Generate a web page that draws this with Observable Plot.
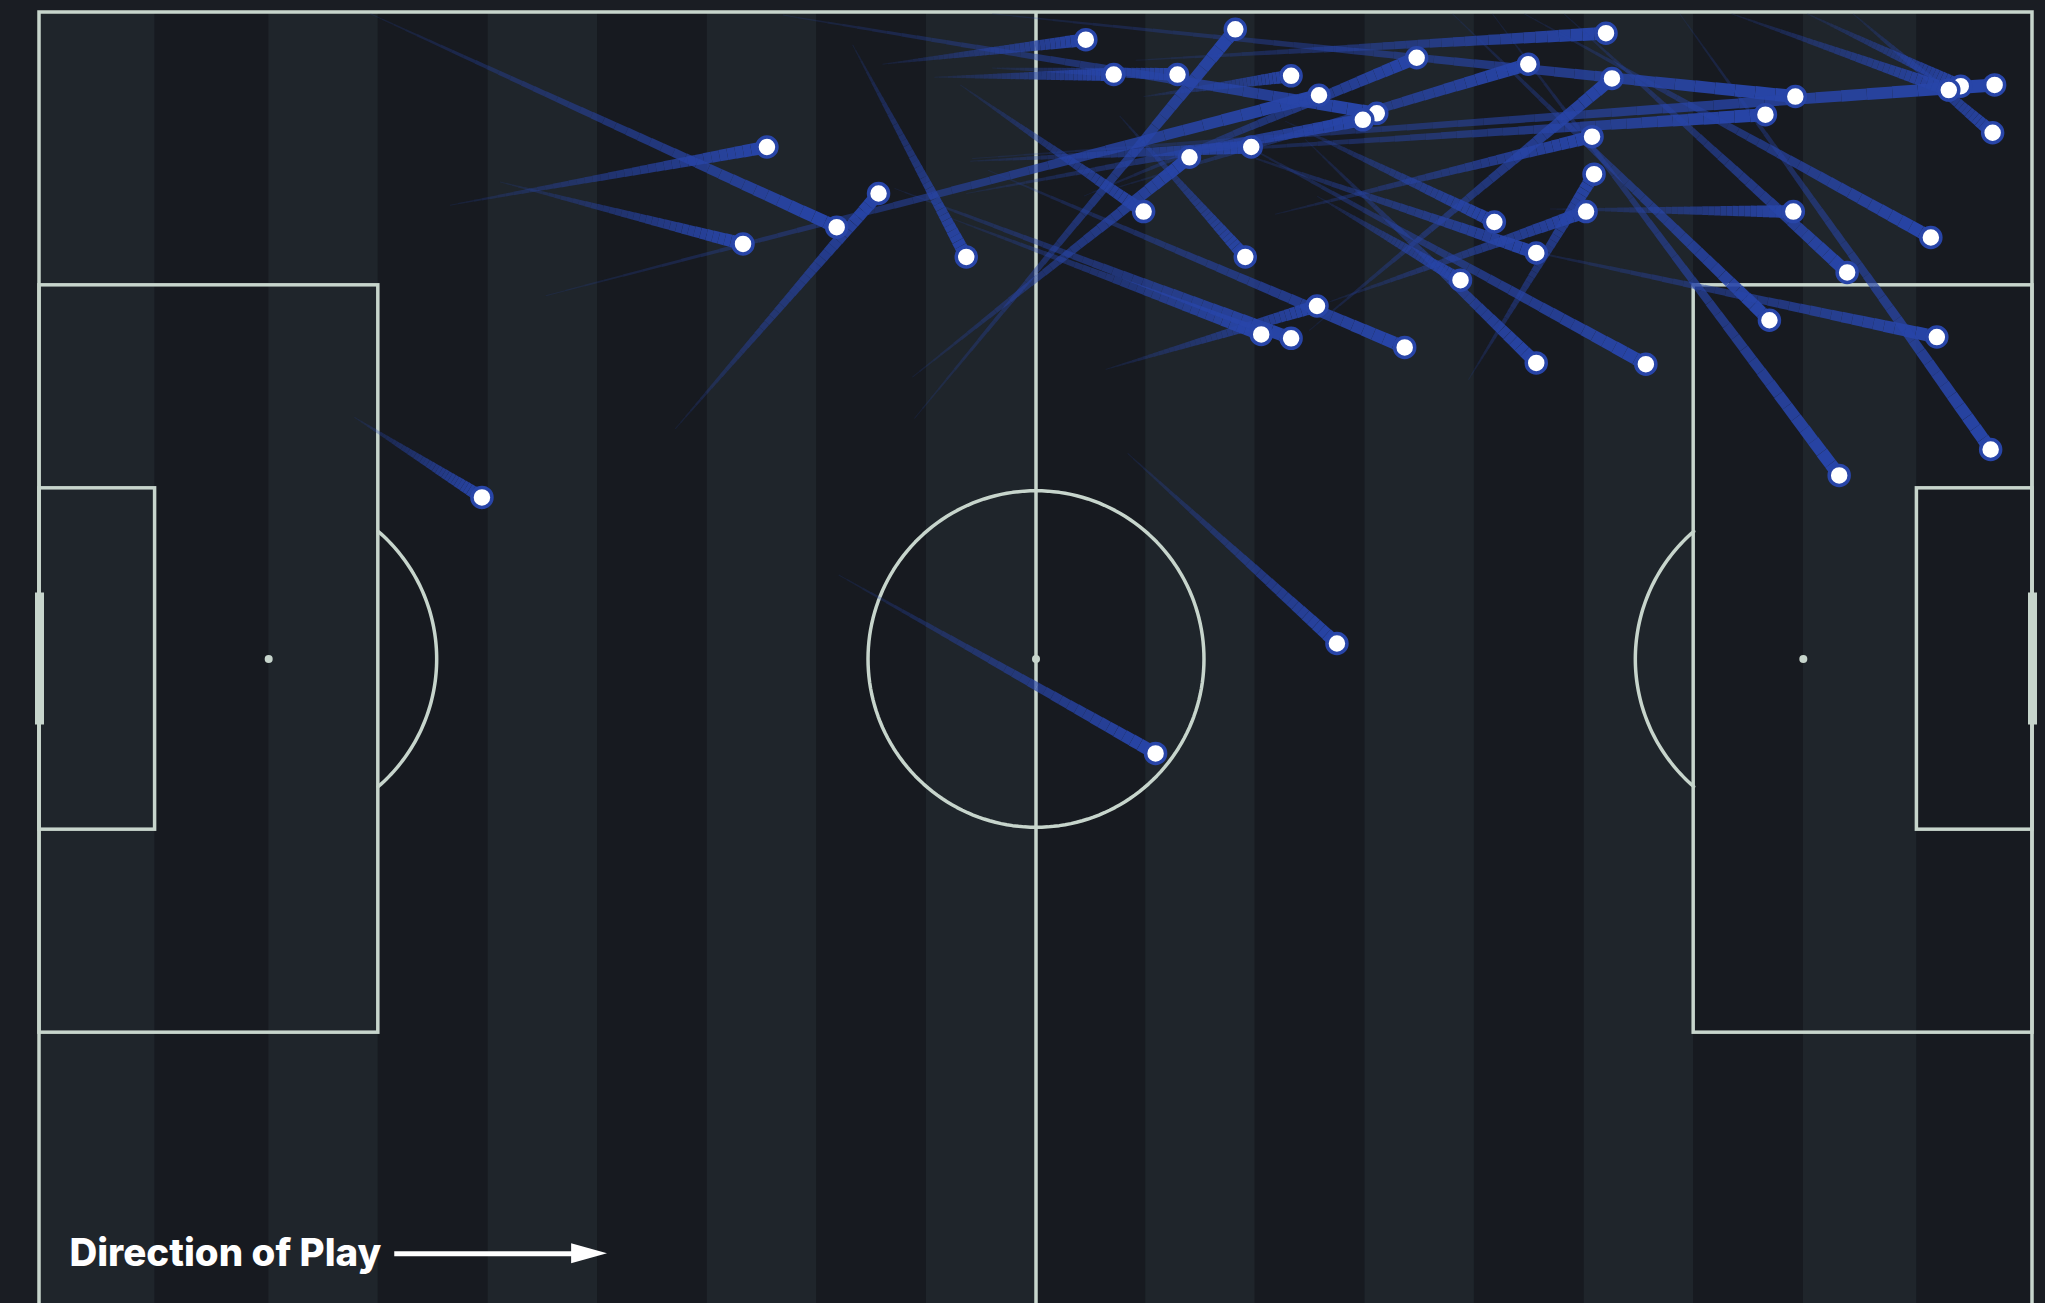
<!DOCTYPE html>
<html><head><meta charset="utf-8">
<script src="https://cdn.jsdelivr.net/npm/d3@7"></script>
<script src="https://cdn.jsdelivr.net/npm/@observablehq/plot@0.6"></script>
<style>
html,body{margin:0;padding:0;background:#1a1d23;}
#chart svg{display:block;}
</style></head><body><div id="chart"></div>
<script>
// Pass data (Opta coordinates, 0-100; y = 100 at the top touchline)
const startX = [20.6,23.1,16.6,31.9,40.8,15.8,42.3,44.9,47.8,43.9,55.4,25.4,37.3,46.5,52.4,53.7,55.0,63.7,46.2,43.8,46.7,54.2,53.5,45.7,42.9,47.6,64.1,62.5,59.9,63.5,59.6,64.5,71.7,62.0,55.6,47.8,75.8,70.9,76.5,72.9,74.5,74.0,82.3,91.0,46.8,88.7,84.9,54.6,40.1];
const startY = [85.1,86.9,99.9,67.8,97.5,68.7,96.0,95.0,95.7,68.6,93.5,78.1,99.8,86.0,85.8,86.3,96.3,75.4,94.4,71.8,88.5,92.0,72.4,84.1,86.4,87.8,85.8,91.6,89.3,90.2,90.5,77.5,71.6,84.4,89.0,99.9,84.8,99.9,99.9,99.9,99.9,81.8,99.9,99.9,88.7,99.9,99.9,65.9,56.5];
const endX   = [36.5,35.3,40.0,42.1,46.5,22.2,52.5,53.9,57.1,60.0,62.8,64.2,67.1,66.4,69.1,74.7,78.6,78.9,55.4,57.7,60.8,60.5,64.1,61.3,62.8,68.5,71.3,73.0,75.1,75.1,80.6,77.6,78.0,77.9,86.6,88.1,88.0,86.8,90.7,90.3,94.9,95.2,97.9,98.0,98.1,96.4,95.8,65.1,56.0];
const endY   = [89.6,82.1,83.4,86.0,81.1,62.5,97.9,95.2,95.2,98.7,95.1,93.6,92.2,91.7,96.5,96.0,98.4,94.9,84.6,88.8,89.6,81.1,77.3,75.1,74.8,74.1,79.3,83.8,81.4,72.9,72.8,84.6,87.5,90.4,92.1,93.5,84.6,76.2,79.9,64.2,82.6,74.9,66.2,90.7,94.4,94.3,94.0,51.2,42.7];

// Pitch markings (Opta units)
const stripeEdges = [0,5.8,11.5,17,22.5,28,33.5,39,44.5,50,55.5,61,66.5,72,77.5,83,88.5,94.2,100];
const penaltyBoxes = [{x1:0,x2:17,y1:21.1,y2:78.9},{x1:83,x2:100,y1:21.1,y2:78.9}];
const sixYardBoxes = [{x1:0,x2:5.8,y1:36.8,y2:63.2},{x1:94.2,x2:100,y1:36.8,y2:63.2}];
const goalPosts = [{x:0},{x:100}];
const goalY = [44.9,55.1];
const spots = [{x:11.5,y:50},{x:50,y:50},{x:88.5,y:50}];
const circleRadiusM = 8.85, pitchLenM = 105, pitchWidM = 68;

// annotation
const dirLabel = [{x:1.5,y:4.0,text:"Direction of Play"}];
const dirShaft = [{x1:17.8,x2:27.0,y:4.0}];
const dirHead = [{x:26.7,y1:3.23,y2:4.77},{x:28.5,y1:4.0,y2:4.0}];

const lineC = "#c7d5cc", lightC = "#1f252b", darkC = "#171a20", blue = "#2845a8";

const stripes = stripeEdges.slice(0,-1).map((x1,i)=>({x1, x2: stripeEdges[i+1], i}));
const rx = circleRadiusM/pitchLenM*100, ry = circleRadiusM/pitchWidM*100;
const centreCircle = d3.range(0,361,2).map(a=>({x:50+rx*Math.cos(a*Math.PI/180), y:50+ry*Math.sin(a*Math.PI/180)}));
const arcHalf = Math.acos((17-11.5)/rx)*180/Math.PI;
const leftArc = d3.range(-arcHalf, arcHalf+0.01, arcHalf/40).map(a=>({x:11.5+rx*Math.cos(a*Math.PI/180), y:50+ry*Math.sin(a*Math.PI/180)}));
const rightArc = leftArc.map(p=>({x:100-p.x, y:p.y}));

const passes = startX.map((x,i)=>({x1:x, y1:startY[i], x2:endX[i], y2:endY[i]}));
const N = 40, maxW = 13;
const segs = passes.flatMap(p => d3.range(N).map(k => ({
  x1: p.x1 + (p.x2-p.x1)*k/N, y1: p.y1 + (p.y2-p.y1)*k/N,
  x2: p.x1 + (p.x2-p.x1)*(k+1)/N, y2: p.y1 + (p.y2-p.y1)*(k+1)/N,
  w: 0.7 + (maxW-0.7)*(k+1)/N, a: 0.14 + 0.86*(k+1)/N
})));

const chart = Plot.plot({
  width: 2045, height: 1303,
  margin: 0,
  style: {background: "transparent"},
  x: {domain:[0,100], range:[39,2032], axis:null},
  y: {domain:[0,100], range:[1305,12], axis:null},
  opacity: {domain:[0,1], range:[0,1]},
  marks: [
    Plot.rect(stripes.filter(d=>d.i%2===0), {x1:"x1", x2:"x2", y1:0, y2:100, fill: lightC}),
    Plot.rect(stripes.filter(d=>d.i%2===1), {x1:"x1", x2:"x2", y1:0, y2:100, fill: darkC}),
    Plot.rect(penaltyBoxes, {x1:"x1",x2:"x2",y1:"y1",y2:"y2", fill:"none", stroke: lineC, strokeWidth: 3.5}),
    Plot.rect(sixYardBoxes, {x1:"x1",x2:"x2",y1:"y1",y2:"y2", fill:"none", stroke: lineC, strokeWidth: 3.5}),
    Plot.ruleX([50], {y1:0, y2:100, stroke: lineC, strokeWidth: 3.5}),
    Plot.line(centreCircle, {x:"x", y:"y", stroke: lineC, strokeWidth: 3.5}),
    Plot.line(leftArc, {x:"x", y:"y", stroke: lineC, strokeWidth: 3.5}),
    Plot.line(rightArc, {x:"x", y:"y", stroke: lineC, strokeWidth: 3.5}),
    Plot.rect([{x1:0,x2:100,y1:0,y2:100}], {x1:"x1",x2:"x2",y1:"y1",y2:"y2", fill:"none", stroke: lineC, strokeWidth: 3.5}),
    Plot.ruleX(goalPosts, {x:"x", y1: goalY[0], y2: goalY[1], stroke: lineC, strokeWidth: 9}),
    Plot.dot(spots, {x:"x", y:"y", r: 4, fill: lineC}),
    Plot.link(segs, {x1:"x1", y1:"y1", x2:"x2", y2:"y2", stroke: blue, strokeWidth: "w", strokeOpacity: "a", strokeLinecap: "butt"}),
    Plot.dot(passes, {x:"x2", y:"y2", r: 10, fill: "white", stroke: blue, strokeWidth: 3.5}),
    Plot.text(dirLabel, {x:"x", y:"y", text:"text", textAnchor:"start", lineAnchor:"middle", fill:"white", fontSize: 38.5, fontWeight: 800, fontFamily: "Inter, 'Open Sans', sans-serif"}),
    Plot.link(dirShaft, {x1:"x1", x2:"x2", y1:"y", y2:"y", stroke:"white", strokeWidth: 5}),
    Plot.areaY(dirHead, {x:"x", y1:"y1", y2:"y2", fill:"white"})
  ]
});
document.getElementById("chart").appendChild(chart);
</script></body></html>
